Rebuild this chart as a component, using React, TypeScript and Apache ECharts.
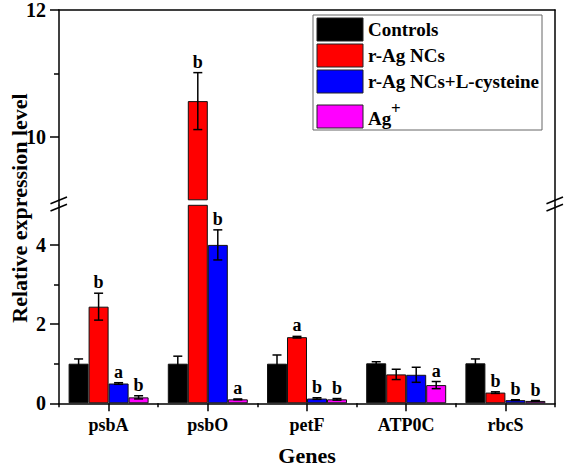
import React, { useEffect, useRef } from 'react';
import * as echarts from 'echarts';

// ---------- data ----------
const genes = ['psbA', 'psbO', 'petF', 'ATP0C', 'rbcS'];
const seriesNames = ['Controls', 'r-Ag NCs', 'r-Ag NCs+L-cysteine', 'Ag+'];
const legendLabels = ['Controls', 'r-Ag NCs', 'r-Ag NCs+L-cysteine', 'Ag'];
const legendSup = ['', '', '', '+'];
const seriesColors = ['#000000', '#ff0000', '#0000ff', '#ff00ff'];

const controls = [1.0, 1.0, 1.0, 1.01, 1.01];
const controlsErr = [0.12, 0.19, 0.22, 0.04, 0.11];
const rAgNCs = [2.44, 10.56, 1.67, 0.73, 0.27];
const rAgNCsErr = [0.34, 0.45, 0.02, 0.13, 0.02];
const rAgNCsCys = [0.5, 4.0, 0.12, 0.72, 0.08];
const rAgNCsCysErr = [0.02, 0.38, 0.02, 0.19, 0.01];
const agIon = [0.15, 0.1, 0.1, 0.46, 0.06];
const agIonErr = [0.04, 0.01, 0.02, 0.09, 0.01];

const controlsLetters = ['', '', '', '', ''];
const rAgNCsLetters = ['b', 'b', 'a', '', 'b'];
const rAgNCsCysLetters = ['a', 'b', 'b', '', 'b'];
const agIonLetters = ['b', 'a', 'b', 'a', 'b'];

const lowerRange = [0, 5];
const upperRange = [9, 12];
const lowerMajorTicks = [0, 2, 4];
const lowerMinorTicks = [1, 3];
const upperMajorTicks = [10, 12];
const upperMinorTicks = [11];

const allValues = [controls, rAgNCs, rAgNCsCys, agIon];
const allErrors = [controlsErr, rAgNCsErr, rAgNCsCysErr, agIonErr];
const allLetters = [controlsLetters, rAgNCsLetters, rAgNCsCysLetters, agIonLetters];

// ---------- layout ----------
const FONT = '"Liberation Serif", "Times New Roman", serif';
const W = 566;
const H = 469;
const LEFT = 59;
const RIGHT = 11;
const UP_TOP = 3.3;
const UP_H = 196.5;
const LOW_TOP = 205.3;
const LOW_H = 198;
const BAR_W = 20;
const AXIS_W = 1.5;

type Item = { ci: number; si: number; v: number; e: number; letter: string };

const items: Item[] = [];
allValues.forEach((vals, si) => {
  vals.forEach((v, ci) => {
    items.push({ ci, si, v, e: allErrors[si][ci], letter: allLetters[si][ci] });
  });
});
const upperItems = items.filter((it) => it.v > upperRange[0]);
const lowerItems = items.filter((it) => it.v + it.e <= lowerRange[1]);

const makeRender = (list: Item[]) => (params: any, api: any) => {
  const it = list[params.dataIndex];
  const c = api.coord([it.ci, it.v]);
  const x = c[0] + (it.si - 1.5) * BAR_W;
  const yTop = api.coord([it.ci, it.v + it.e])[1];
  const yBot = api.coord([it.ci, it.v - it.e])[1];
  const cap = 4.5;
  const st = { stroke: '#000', lineWidth: 1.5 };
  const children: any[] = [];
  if (it.e > 0) {
    children.push({ type: 'line', shape: { x1: x, y1: yTop, x2: x, y2: yBot }, style: st });
    children.push({ type: 'line', shape: { x1: x - cap, y1: yTop, x2: x + cap, y2: yTop }, style: st });
    children.push({ type: 'line', shape: { x1: x - cap, y1: yBot, x2: x + cap, y2: yBot }, style: st });
  }
  if (it.letter) {
    children.push({
      type: 'text',
      x,
      y: yTop - 2,
      style: {
        text: it.letter,
        align: 'center',
        verticalAlign: 'bottom',
        fontSize: 18,
        fontWeight: 'bold',
        fontFamily: FONT,
        fill: '#000',
      },
    });
  }
  return { type: 'group', children };
};

const axisLineStyle = { color: '#000', width: AXIS_W };

// per grid: [major ticks + line, minor ticks, right frame, labels]
function yAxesFor(gridIndex: number, range: number[], majors: number[], minors: number[]) {
  const base = {
    type: 'value',
    gridIndex,
    min: range[0],
    max: range[1],
    interval: 1,
    splitLine: { show: false },
  };
  return [
    {
      ...base,
      position: 'left',
      axisLine: { show: true, lineStyle: axisLineStyle },
      axisTick: { show: true, length: 9, customValues: majors, lineStyle: { color: '#000', width: AXIS_W } },
      axisLabel: { show: false },
    },
    {
      ...base,
      position: 'left',
      axisLine: { show: false },
      axisTick: { show: true, length: 5, customValues: minors, lineStyle: { color: '#000', width: AXIS_W } },
      axisLabel: { show: false },
    },
    {
      ...base,
      position: 'right',
      axisLine: { show: true, lineStyle: axisLineStyle },
      axisTick: { show: false },
      axisLabel: { show: false },
    },
    {
      ...base,
      position: 'left',
      z: 10,
      axisLine: { show: false },
      axisTick: { show: false },
      axisLabel: {
        show: true,
        fontSize: 20,
        fontWeight: 'bold',
        fontFamily: FONT,
        color: '#000',
        margin: 13,
        formatter: (v: number) => (majors.indexOf(v) >= 0 ? String(v) : ''),
      },
    },
  ];
}

function buildOption(): any {
  const upperBars = allValues.map((vals, si) => ({
    type: 'bar',
    name: seriesNames[si],
    xAxisIndex: 0,
    yAxisIndex: 0,
    barWidth: BAR_W,
    barGap: '0%',
    clip: true,
    data: vals.map((v) => (v > upperRange[0] ? v : '-')),
    itemStyle: { color: seriesColors[si], borderColor: '#111', borderWidth: 1 },
  }));
  const lowerBars = allValues.map((vals, si) => ({
    type: 'bar',
    name: seriesNames[si],
    xAxisIndex: 1,
    yAxisIndex: 4,
    barWidth: BAR_W,
    barGap: '0%',
    clip: true,
    data: vals,
    itemStyle: { color: seriesColors[si], borderColor: '#111', borderWidth: 1 },
  }));

  const legendTop = [18, 44, 70, 105];
  const legendGraphics: any[] = [
    {
      type: 'rect',
      shape: { x: 313, y: 15, width: 229, height: 115 },
      style: { fill: '#fff', stroke: '#666', lineWidth: 1 },
      z: 10,
    },
  ];
  legendLabels.forEach((lab, i) => {
    legendGraphics.push({
      type: 'rect',
      shape: { x: 317, y: legendTop[i], width: 46, height: 23 },
      style: { fill: seriesColors[i], stroke: '#222', lineWidth: 1 },
      z: 11,
    });
    const cy = legendTop[i] + 11.5 + (legendSup[i] ? 2 : 0);
    legendGraphics.push({
      type: 'text',
      x: 368,
      y: cy,
      style: {
        text: lab,
        align: 'left',
        verticalAlign: 'middle',
        fontSize: 19,
        fontWeight: 'bold',
        fontFamily: FONT,
        fill: '#000',
      },
      z: 11,
    });
    if (legendSup[i]) {
      legendGraphics.push({
        type: 'text',
        x: 391,
        y: cy - 10,
        style: {
          text: legendSup[i],
          align: 'left',
          verticalAlign: 'middle',
          fontSize: 17,
          fontWeight: 'bold',
          fontFamily: FONT,
          fill: '#000',
        },
        z: 11,
      });
    }
  });

  const breakStyle = { stroke: '#000', lineWidth: 1.5 };
  const xl = LEFT;
  const xr = W - RIGHT;
  const breakGraphics: any[] = [];
  [xl, xr].forEach((x0) => {
    breakGraphics.push({
      type: 'line',
      shape: { x1: x0, y1: UP_TOP + UP_H, x2: x0, y2: LOW_TOP },
      style: breakStyle,
      z: 12,
    });
    breakGraphics.push({
      type: 'line',
      shape: { x1: x0 - 8.5, y1: 203.7, x2: x0 + 8, y2: 197 },
      style: breakStyle,
      z: 12,
    });
    breakGraphics.push({
      type: 'line',
      shape: { x1: x0 - 8.5, y1: 211, x2: x0 + 8, y2: 204.3 },
      style: breakStyle,
      z: 12,
    });
  });

  return {
    animation: false,
    backgroundColor: '#fff',
    textStyle: { fontFamily: FONT },
    grid: [
      { left: LEFT, right: RIGHT, top: UP_TOP, height: UP_H },
      { left: LEFT, right: RIGHT, top: LOW_TOP, height: LOW_H },
    ],
    xAxis: [
      {
        type: 'category',
        gridIndex: 0,
        data: genes,
        position: 'top',
        axisLine: { show: true, lineStyle: axisLineStyle },
        axisTick: { show: false },
        axisLabel: { show: false },
        splitLine: { show: false },
      },
      {
        type: 'category',
        gridIndex: 1,
        data: genes,
        position: 'bottom',
        axisLine: { show: true, lineStyle: axisLineStyle },
        axisTick: { show: true, alignWithLabel: true, length: 8, lineStyle: { color: '#000', width: AXIS_W } },
        axisLabel: { fontSize: 18, fontWeight: 'bold', fontFamily: FONT, color: '#000', margin: 13 },
        name: 'Genes',
        nameLocation: 'middle',
        nameGap: 41,
        nameTextStyle: { fontSize: 22, fontWeight: 'bold', fontFamily: FONT, color: '#000' },
        splitLine: { show: false },
      },
      {
        type: 'category',
        gridIndex: 1,
        data: genes,
        position: 'bottom',
        axisLine: { show: false },
        axisTick: { show: true, alignWithLabel: false, length: 4, lineStyle: { color: '#000', width: AXIS_W } },
        axisLabel: { show: false },
        splitLine: { show: false },
      },
    ],
    yAxis: [
      ...yAxesFor(0, upperRange, upperMajorTicks, upperMinorTicks),
      ...yAxesFor(1, lowerRange, lowerMajorTicks, lowerMinorTicks),
    ],
    series: [
      ...upperBars,
      ...lowerBars,
      {
        type: 'custom',
        name: 'errors-upper',
        xAxisIndex: 0,
        yAxisIndex: 0,
        z: 5,
        renderItem: makeRender(upperItems),
        encode: { x: 0, y: 1 },
        data: upperItems.map((it) => [it.ci, it.v]),
      },
      {
        type: 'custom',
        name: 'errors-lower',
        xAxisIndex: 1,
        yAxisIndex: 4,
        z: 5,
        renderItem: makeRender(lowerItems),
        encode: { x: 0, y: 1 },
        data: lowerItems.map((it) => [it.ci, it.v]),
      },
    ],
    graphic: [
      ...breakGraphics,
      ...legendGraphics,
      {
        type: 'text',
        x: 19,
        y: 208,
        rotation: Math.PI / 2,
        style: {
          text: 'Relative expression level',
          align: 'center',
          verticalAlign: 'middle',
          fontSize: 22,
          fontWeight: 'bold',
          fontFamily: FONT,
          fill: '#000',
        },
      },
    ],
  };
}

export default function App() {
  const ref = useRef<HTMLDivElement>(null);
  useEffect(() => {
    if (!ref.current) return;
    const chart = echarts.init(ref.current, undefined, { renderer: 'svg' });
    chart.setOption(buildOption());
    return () => {
      chart.dispose();
    };
  }, []);
  return (
    <div
      ref={ref}
      style={{ position: 'fixed', left: 0, top: 0, width: W, height: H, background: '#fff' }}
    />
  );
}
